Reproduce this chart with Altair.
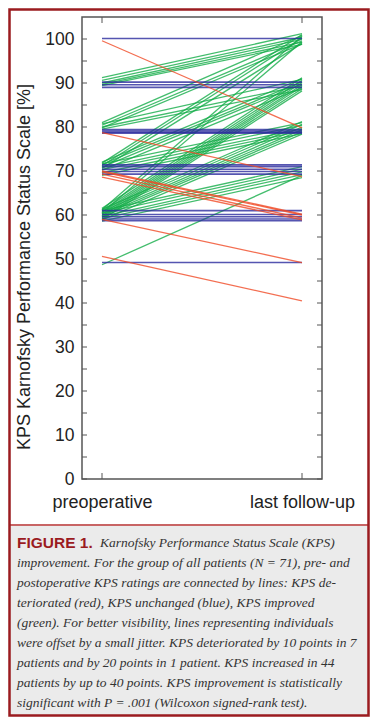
import altair as alt
import pandas as pd

# ---------------- data (incl. the small jitter) ----------------
x_labels = ["preoperative", "last follow-up"]
y_ticks = [0, 10, 20, 30, 40, 50, 60, 70, 80, 90, 100]

green_pre = [91.2, 90.6, 90.0, 89.7, 89.4, 81.0, 80.4, 79.8, 80.7, 80.0, 79.5,
             71.8, 71.2, 70.6, 72.0, 71.5, 70.9, 70.2, 71.6, 70.8, 70.3, 69.6, 69.0,
             61.2, 60.5, 61.5, 61.0, 60.6, 60.2, 59.8, 59.4, 59.0,
             61.3, 60.8, 60.3, 59.9, 59.5, 58.9, 61.0, 60.4, 59.7, 59.2, 58.6, 48.7]
green_post = [101.2, 100.4, 99.9, 99.3, 98.8, 100.8, 99.6, 98.9, 90.8, 89.4, 88.5,
              101.0, 100.2, 99.0, 91.0, 90.3, 89.8, 88.9, 81.0, 80.4, 79.6, 79.1, 78.5,
              100.6, 99.4, 91.2, 90.6, 90.1, 89.6, 89.2, 88.7, 88.2,
              81.2, 80.6, 80.0, 79.4, 78.9, 78.4, 71.0, 70.4, 69.8, 69.2, 68.5, 69.0]
blue_pre = [100.1, 90.2, 89.6, 89.0, 79.4, 79.1, 78.8, 78.6, 71.4, 71.0, 70.4, 69.9, 69.3,
            61.0, 60.1, 59.6, 59.1, 58.7, 49.2]
blue_post = [100.1, 90.2, 89.6, 89.0, 79.4, 79.1, 78.8, 78.6, 71.4, 71.0, 70.4, 69.9, 69.3,
             61.0, 60.1, 59.6, 59.1, 58.7, 49.2]
red_pre = [99.6, 78.7, 70.0, 69.8, 69.3, 68.6, 59.0, 50.6]
red_post = [79.8, 68.7, 60.2, 60.0, 59.3, 58.9, 49.2, 40.5]

status_names = ["improved", "unchanged", "deteriorated"]
status_colors = ["#14ad48", "#2b2b9e", "#f04a26"]

caption_head = "FIGURE 1."
caption_lines = [
    "Karnofsky Performance Status Scale (KPS)",
    "improvement. For the group of all patients (N = 71), pre- and",
    "postoperative KPS ratings are connected by lines: KPS de-",
    "teriorated (red), KPS unchanged (blue), KPS improved",
    "(green). For better visibility, lines representing individuals",
    "were offset by a small jitter. KPS deteriorated by 10 points in 7",
    "patients and by 20 points in 1 patient. KPS increased in 44",
    "patients by up to 40 points. KPS improvement is statistically",
    "significant with P = .001 (Wilcoxon signed-rank test).",
]
y_title = "KPS Karnofsky Performance Status Scale [%]"

# ---------------- long table ----------------
rows = []
for st, pres, posts in [("improved", green_pre, green_post),
                        ("unchanged", blue_pre, blue_post),
                        ("deteriorated", red_pre, red_post)]:
    for i, (a, b) in enumerate(zip(pres, posts)):
        pid = f"{st}{i}"
        rows.append({"id": pid, "time": x_labels[0], "kps": a, "status": st})
        rows.append({"id": pid, "time": x_labels[1], "kps": b, "status": st})
df = pd.DataFrame(rows)

W, H = 240, 462
FONT = "Liberation Sans"

xscale = alt.Scale(type="point", domain=x_labels, padding=0.1)
yscale = alt.Scale(domain=[0, 105], nice=False, zero=False)
xaxis = alt.Axis(title=None, tickSize=0, domain=False, grid=False, labelPadding=14,
                 labelFontSize=18, labelFont=FONT, labelColor="#222", labelAngle=0)
yaxis = alt.Axis(title=None, values=y_ticks, tickSize=0, domain=False, grid=False,
                 labelPadding=8, labelFontSize=17.5, labelFont=FONT, labelColor="#222")

X = alt.X("time:N", scale=xscale, axis=xaxis, sort=x_labels)
Y = alt.Y("kps:Q", scale=yscale, axis=yaxis)

layers = []
for st, col, sw in zip(status_names, status_colors, [1.3, 1.6, 1.3]):
    layers.append(
        alt.Chart(df).transform_filter(alt.datum.status == st)
        .mark_line(strokeWidth=sw, opacity=0.8, color=col)
        .encode(x=X, y=Y, detail="id:N")
    )

# inward ticks (frame style)
tick_df = pd.DataFrame({"kps": list(range(0, 101, 5))})
for x1, x2 in [(0, 5), (W - 5, W)]:
    layers.append(
        alt.Chart(tick_df).mark_rule(color="#555", strokeWidth=1)
        .encode(y=Y, x=alt.value(x1), x2=alt.value(x2))
    )
xt_df = pd.DataFrame({"time": x_labels})
for y1, y2 in [(H, H - 6), (0, 6)]:
    layers.append(
        alt.Chart(xt_df).mark_rule(color="#555", strokeWidth=1)
        .encode(x=X, y=alt.value(y1), y2=alt.value(y2))
    )

one = pd.DataFrame({"a": [0]})

# y-axis title
layers.append(
    alt.Chart(one).mark_text(text=y_title, angle=270, fontSize=18, font=FONT, color="#222",
                             align="center", baseline="middle")
    .encode(x=alt.value(-57), y=alt.value(250))
)

# caption box
L, R, T, B = -72.5, 286.5, -7.5, 698.5
SEP = 508
layers.append(
    alt.Chart(one).mark_rect(color="#ebebeb")
    .encode(x=alt.value(L), x2=alt.value(R), y=alt.value(SEP + 1), y2=alt.value(B))
)
layers.append(
    alt.Chart(one).mark_rule(color="#c86464", strokeWidth=2)
    .encode(x=alt.value(L), x2=alt.value(R), y=alt.value(SEP))
)
layers.append(
    alt.Chart(one).mark_rect(fill=None, filled=False, stroke="#9b1b1f", strokeWidth=2.5)
    .encode(x=alt.value(L), x2=alt.value(R), y=alt.value(T), y2=alt.value(B))
)
layers.append(
    alt.Chart(one).mark_text(text=caption_head, fontSize=15.5, font=FONT, fontWeight="bold",
                             color="#9b1b1f", align="left", baseline="middle")
    .encode(x=alt.value(-65), y=alt.value(526))
)
for i, line in enumerate(caption_lines):
    layers.append(
        alt.Chart(one).mark_text(text=line, fontSize=13.5, font="Liberation Serif",
                                 fontStyle="italic", color="#333", align="left",
                                 baseline="middle")
        .encode(x=alt.value(18 if i == 0 else -65), y=alt.value(526 + 20 * i))
    )

chart = alt.layer(*layers).properties(
    width=W, height=H,
    autosize=alt.AutoSizeParams(type="none"),
    padding={"left": 74, "top": 9, "right": 48, "bottom": 238},
    background="white",
).configure_view(stroke="#555", strokeWidth=1.5)

chart.save("out.html", embed_options={"renderer": "svg", "actions": False})
